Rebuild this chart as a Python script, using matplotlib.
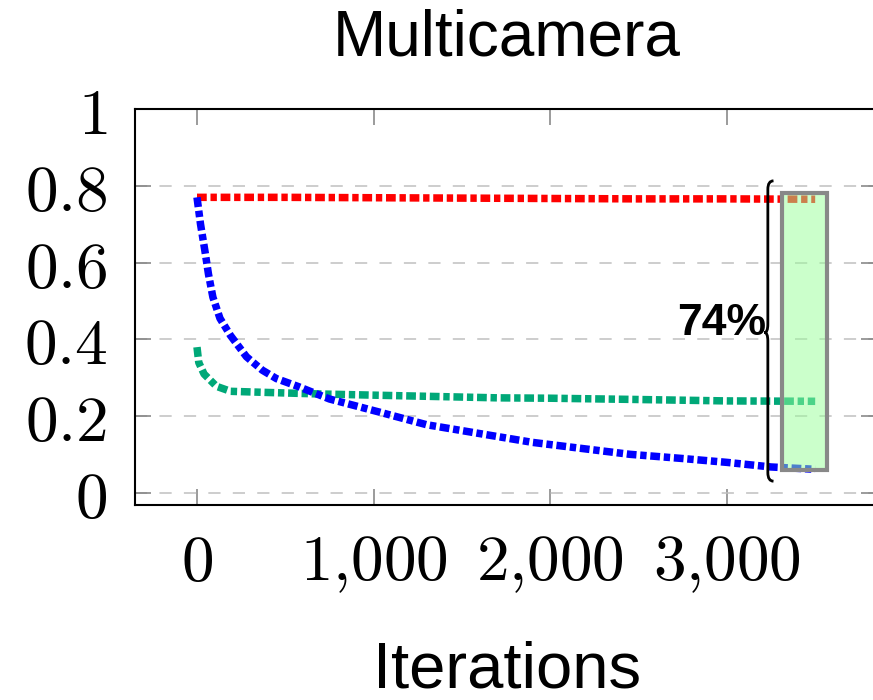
import matplotlib
matplotlib.use("Agg")
import matplotlib.pyplot as plt
from matplotlib.path import Path
from matplotlib.patches import PathPatch, Rectangle

plt.rcParams['mathtext.fontset'] = 'cm'

# ---- data ----
red_x = [0, 100, 500, 1000, 1500, 2000, 2500, 3000, 3500]
red_y = [0.770, 0.770, 0.770, 0.769, 0.768, 0.767, 0.766, 0.766, 0.765]

green_x = [0, 10, 40, 110, 190, 400, 700, 1000, 1300, 1700, 2000, 2450, 3000, 3500]
green_y = [0.380, 0.340, 0.310, 0.278, 0.265, 0.262, 0.258, 0.255, 0.252, 0.248, 0.247, 0.244, 0.240, 0.239]

blue_x = [0, 20, 45, 65, 90, 130, 190, 280, 370, 450, 570, 750, 1040, 1300, 1600, 1900, 2200, 2450, 2750, 3000, 3250, 3500]
blue_y = [0.770, 0.700, 0.630, 0.570, 0.510, 0.455, 0.410, 0.355, 0.320, 0.298, 0.278, 0.245, 0.210, 0.178, 0.155, 0.132, 0.115, 0.101, 0.090, 0.080, 0.068, 0.062]

x_ticks = [0, 1000, 2000, 3000]
x_tick_labels = ['0', '1{,}000', '2{,}000', '3{,}000']
y_ticks = [0, 0.2, 0.4, 0.6, 0.8, 1.0]
y_tick_labels = ['0', '0.2', '0.4', '0.6', '0.8', '1']

title = 'Multicamera'
xlabel = 'Iterations'
gap_label = '74%'

# highlight box and brace (annotation)
box_x = (3310, 3565)
box_y = (0.060, 0.782)
brace_x = 3232
brace_y = (0.813, 0.031)
brace_mid = 0.418

W, H = 873, 700
fig = plt.figure(figsize=(W / 100, H / 100), dpi=100)
L, R, T, B = 135, 877, 109, 505
ax = fig.add_axes([L / W, 1 - B / H, (R - L) / W, (B - T) / H])
ax.set_xlim(-351, 3850)
ax.set_ylim(-0.031, 1.0)

lw = 5.4
pat = (0, (1.3, 0.5, 0.85, 0.5))
ax.plot(red_x, red_y, color=(1, 0, 0), lw=lw, linestyle=pat, zorder=3)
ax.plot(green_x, green_y, color='#00a878', lw=lw, linestyle=pat, zorder=3)
ax.plot(blue_x, blue_y, color=(0, 0, 1), lw=lw, linestyle=pat, zorder=4)

rect = Rectangle((box_x[0], box_y[0]), box_x[1] - box_x[0], box_y[1] - box_y[0],
                 facecolor=(0.6, 1.0, 0.6, 0.5), edgecolor='#888888', lw=3, zorder=5)
ax.add_patch(rect)

# brace
w = 32
r = 0.022
yt, yb = brace_y
ym = brace_mid
verts = [
    (brace_x + w, yt), (brace_x, yt), (brace_x, yt - r),
    (brace_x, ym + r),
    (brace_x, ym), (brace_x - w * 0.6, ym),
    (brace_x, ym), (brace_x, ym - r),
    (brace_x, yb + r),
    (brace_x, yb), (brace_x + w, yb),
]
codes = [Path.MOVETO, Path.CURVE3, Path.CURVE3,
         Path.LINETO,
         Path.CURVE3, Path.CURVE3,
         Path.CURVE3, Path.CURVE3,
         Path.LINETO,
         Path.CURVE3, Path.CURVE3]
ax.add_patch(PathPatch(Path(verts, codes), facecolor='none', edgecolor='black', lw=2.0, zorder=6))

ax.text(brace_x - 8, 0.442, gap_label, ha='right', va='center', fontsize=32,
        fontweight='bold', family='Liberation Sans', zorder=7)

ax.set_xticks(x_ticks)
ax.set_xticklabels(['$' + s + '$' for s in x_tick_labels])
ax.set_yticks(y_ticks)
ax.set_yticklabels(['$' + s + '$' for s in y_tick_labels])

ax.tick_params(axis='both', direction='in', length=11.5, width=1.1, color='#808080',
               labelsize=47, top=True, right=True)
ax.tick_params(axis='y', pad=20)
ax.tick_params(axis='x', pad=19)

ax.yaxis.grid(True, color='#c0c0c0', lw=1.1, linestyle=(0, (8, 8)))
ax.set_axisbelow(True)
for s in ax.spines.values():
    s.set_linewidth(1.5)
    s.set_color('black')

fig.text(507 / W, 1 - 55 / H, title, ha='center', va='baseline', fontsize=46, family='Liberation Sans')
fig.text(507 / W, 1 - 688 / H, xlabel, ha='center', va='baseline', fontsize=47, family='Liberation Sans')

fig.savefig('out.png', dpi=100)
